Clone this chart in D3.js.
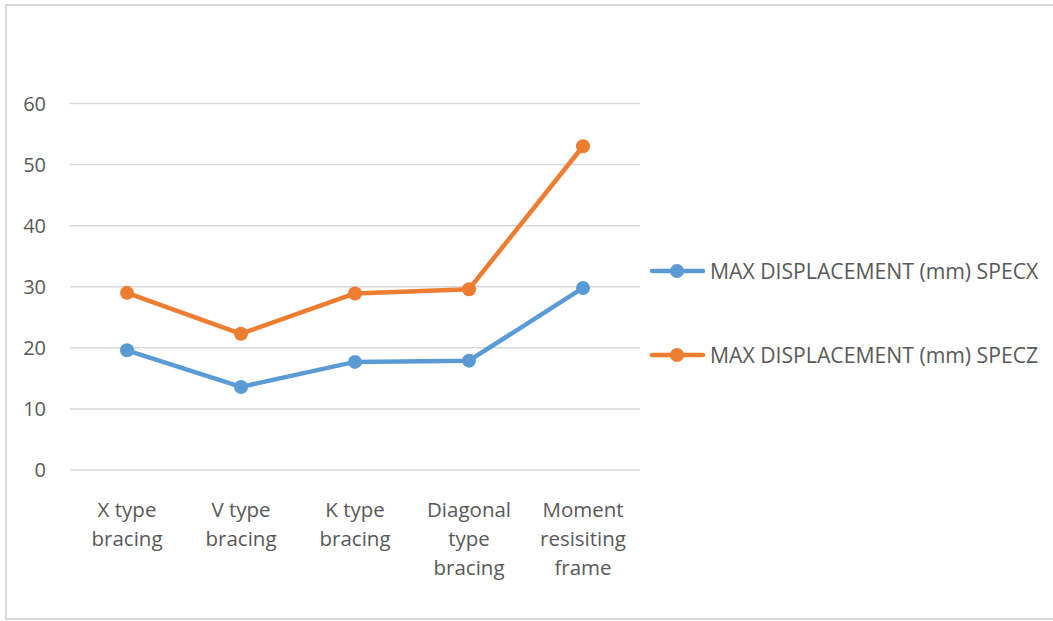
<!DOCTYPE html>
<html><head><meta charset="utf-8">
<script src="https://cdn.jsdelivr.net/npm/d3@7"></script>
<style>html,body{margin:0;padding:0;background:#fff;}svg{display:block;}</style>
</head><body>
<svg id="c" width="1053" height="621"></svg>
<script>
const categories = [["X type","bracing"],["V type","bracing"],["K type","bracing"],["Diagonal","type","bracing"],["Moment","resisiting","frame"]];
const seriesNames = ["MAX DISPLACEMENT (mm) SPECX","MAX DISPLACEMENT (mm) SPECZ"];
const specX = [19.6, 13.6, 17.7, 17.9, 29.8];
const specZ = [29.0, 22.3, 28.9, 29.6, 53.0];
const yTicks = [0,10,20,30,40,50,60];
const colors = ["#5B9BD5","#ED7D31"];

const svg = d3.select("#c");
const font = "'Open Sans', sans-serif";
svg.append("rect").attr("x",6).attr("y",5).attr("width",1050).attr("height",614)
  .attr("fill","#fff").attr("stroke","#d9d9d9").attr("stroke-width",2);

const x = d3.scaleBand().domain(d3.range(categories.length)).range([70,640]);
const y = d3.scaleLinear().domain([0,60]).range([470,103.5]);

const grid = svg.append("g");
grid.selectAll("line").data(yTicks).join("line")
  .attr("x1",70).attr("x2",640).attr("y1",d=>y(d)).attr("y2",d=>y(d))
  .attr("stroke","#d9d9d9").attr("stroke-width",1.5);

const yAxis = svg.append("g").attr("transform","translate(46,0)")
  .call(d3.axisLeft(y).tickValues(yTicks).tickSize(0).tickPadding(0));
yAxis.select(".domain").remove();
yAxis.selectAll("text").attr("font-family",font).attr("font-size",20).attr("fill","#595959")
  .attr("dy",null).attr("y",6.5);

const xAxis = svg.append("g").attr("transform","translate(0,470)")
  .call(d3.axisBottom(x).tickSize(0).tickFormat(()=>""));
xAxis.select(".domain").remove();
xAxis.selectAll(".tick text").each(function(d){
  const t = d3.select(this).attr("y",0).attr("dy",null)
    .attr("font-family",font).attr("font-size",20.5).attr("fill","#595959");
  t.selectAll("tspan").data(categories[d]).join("tspan")
    .attr("x",0).attr("y",(s,i)=>46.5+i*29.3).text(s=>s);
});

const line = d3.line().x((d,i)=>x(i)+x.bandwidth()/2).y(d=>y(d));
[specX, specZ].forEach((vals,k)=>{
  const g = svg.append("g");
  g.append("path").datum(vals).attr("d",line).attr("fill","none")
    .attr("stroke",colors[k]).attr("stroke-width",4.5).attr("stroke-linejoin","round").attr("stroke-linecap","round");
  g.selectAll("circle").data(vals).join("circle")
    .attr("cx",(d,i)=>x(i)+x.bandwidth()/2).attr("cy",d=>y(d)).attr("r",7).attr("fill",colors[k]);
});

const legendY = [271, 355];
seriesNames.forEach((n,k)=>{
  const g = svg.append("g").attr("transform",`translate(0,${legendY[k]})`);
  g.append("line").attr("x1",652).attr("x2",703).attr("y1",0).attr("y2",0)
    .attr("stroke",colors[k]).attr("stroke-width",4.5).attr("stroke-linecap","round");
  g.append("circle").attr("cx",677).attr("cy",0).attr("r",7).attr("fill",colors[k]);
  g.append("text").attr("x",710).attr("y",7.5)
    .attr("font-family",font).attr("font-size",21.2).attr("fill","#595959").text(n);
});
</script>
</body></html>
